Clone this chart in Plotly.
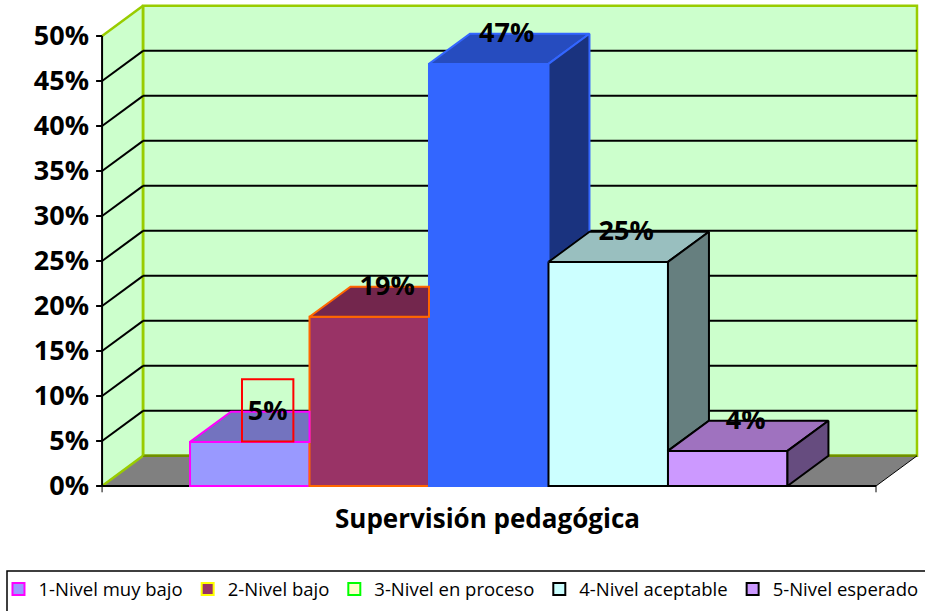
"""Grafico de barras con aspecto 3D: Supervision pedagogica."""

import plotly.graph_objects as go

series = ["1-Nivel muy bajo", "2-Nivel bajo", "3-Nivel en proceso",
          "4-Nivel aceptable", "5-Nivel esperado"]
values = [4.9, 18.8, 46.9, 24.9, 3.9]
ticks = [0, 5, 10, 15, 20, 25, 30, 35, 40, 45, 50]
x_title = "Supervisión pedagógica"

bar_fill = ["#9999FF", "#993366", "#3366FF", "#CCFFFF", "#CC99FF"]
bar_line = ["#FF00FF", "#FF6600", "#3366FF", "#000000", "#000000"]
top_fill = ["#7373BF", "#73264D", "#264CBF", "#99BFBF", "#9F72BF"]
side_fill = ["#4C4C7F", "#4C1933", "#1A337F", "#667F7F", "#664C7F"]
legend_fill = ["#9999FF", "#993366", "#FFFFCC", "#CCFFFF", "#CC99FF"]
legend_line = ["#FF00FF", "#FFFF00", "#00FF00", "#000000", "#000000"]

FONT = "Open Sans"
GREEN = "#99CC00"
WALL = "#CCFFCC"
DX, DY = 0.343, 3.35       # desplazamiento de profundidad
X0, X1 = -1.236, 5.241     # frente del suelo
TOP = ticks[-1]


def poly(xs, ys):
    return "M" + " L".join(f"{x},{y}" for x, y in zip(xs, ys)) + " Z"


def wall(xs, ys, fill, line=None, width=2.5):
    return dict(type="path", path=poly(xs, ys), xref="x", yref="y", layer="below",
                fillcolor=fill, line=dict(color=line or fill, width=width if line else 0))


def seg(x0, y0, x1, y1, color="#000000", width=2):
    return dict(type="line", x0=x0, y0=y0, x1=x1, y1=y1, xref="x", yref="y",
                layer="below", line=dict(color=color, width=width))


fig = go.Figure()

# paredes y suelo
shapes = [
    wall([X0, X0 + DX, X0 + DX, X0], [0, DY, TOP + DY, TOP], WALL),
    wall([X0 + DX, X1 + DX, X1 + DX, X0 + DX], [DY, DY, TOP + DY, TOP + DY], WALL, GREEN),
    wall([X0, X0 + DX, X1 + DX, X1], [0, DY, DY, 0], "#808080"),
    seg(X0, TOP, X0 + DX, TOP + DY, GREEN, 2.5),
    seg(X0, 0, X0 + DX, DY, GREEN, 2.5),
    seg(X0 + DX, DY, X1 + DX, DY, "#6F8F00", 2.5),
    seg(X0 + DX, DY, X0 + DX, TOP + DY, GREEN, 2.5),
    seg(X1, 0, X1 + DX, DY, "#000000", 1),
]
for t in ticks[1:-1]:
    shapes.append(seg(X0, t, X0 + DX, t + DY))
    shapes.append(seg(X0 + DX, t + DY, X1 + DX, t + DY))
for t in ticks:
    shapes.append(seg(X0 - 0.05, t, X0, t))
shapes += [
    seg(X0, 0, X0, TOP),
    seg(X0, 0, X1, 0),
    seg(X0, 0, X0, -0.7, "#000000", 1),
    seg(X1, 0, X1, -0.7, "#000000", 1),
]

# caras frontales
for i, (name, v) in enumerate(zip(series, values)):
    fig.add_trace(go.Bar(
        x=[i], y=[v], width=1, name=name, showlegend=False, hoverinfo="skip",
        marker=dict(color=bar_fill[i], line=dict(color=bar_line[i], width=2)),
    ))

# entradas de leyenda: el color de la leyenda no siempre coincide con la barra
for i, name in enumerate(series):
    fig.add_trace(go.Bar(
        x=[None], y=[None], name=name,
        marker=dict(color=legend_fill[i], line=dict(color=legend_line[i], width=2)),
    ))

# caras superior y lateral, recortadas por la barra siguiente
for i, v in enumerate(values):
    left, right = i - 0.5, i + 0.5
    nxt = values[i + 1] if i + 1 < len(values) else 0
    tx = [left, left + DX, right + DX, right, left]
    ty = [v, v + DY, v + DY, v, v]
    if nxt > v:
        tx = [left, left + DX, right, right, left]
    fig.add_trace(go.Scatter(
        x=tx, y=ty, mode="lines", fill="toself", fillcolor=top_fill[i],
        line=dict(color=bar_line[i], width=2), showlegend=False, hoverinfo="skip",
    ))
    if nxt < v:
        fig.add_trace(go.Scatter(
            x=[right, right + DX, right + DX, right, right],
            y=[v, v + DY, nxt + DY, nxt, v],
            mode="lines", fill="toself", fillcolor=side_fill[i],
            line=dict(color=bar_line[i], width=2), showlegend=False, hoverinfo="skip",
        ))

# etiquetas de datos
label_x = [i + 0.15 for i in range(len(values))]
label_y = [v + DY - 0.2 for v in values]
fig.add_trace(go.Scatter(
    x=label_x, y=label_y, mode="text", text=[f"{v:.0f}%" for v in values],
    textposition="middle center", showlegend=False, hoverinfo="skip",
    textfont=dict(family=FONT, size=27, color="#000000", weight="bold"),
))

# recuadro rojo de la etiqueta 5%
shapes.append(dict(type="rect", xref="x", yref="y", layer="above",
                   x0=label_x[0] - 0.215, x1=label_x[0] + 0.215,
                   y0=label_y[0] - 3.1, y1=label_y[0] + 3.8,
                   line=dict(color="#FF0000", width=2)))
# marco de la leyenda: sin borde abajo ni a la derecha, sale de la pagina
shapes.append(dict(type="rect", xref="paper", yref="paper", layer="above",
                   x0=-0.0994, x1=1.01, y0=-0.1559, y1=-0.24,
                   line=dict(color="#000000", width=1.5)))

fig.update_layout(
    width=925, height=611, autosize=False,
    paper_bgcolor="#FFFFFF", plot_bgcolor="rgba(0,0,0,0)",
    margin=dict(l=90, r=0, t=0, b=117, autoexpand=False),
    barmode="overlay", shapes=shapes,
    showlegend=True,
    legend=dict(orientation="h", x=-0.1096, y=-0.155, xanchor="left", yanchor="top",
                bgcolor="rgba(0,0,0,0)", traceorder="normal",
                font=dict(family=FONT, size=18.5, color="#000000")),
    annotations=[dict(text=f"<b>{x_title}</b>", xref="paper", yref="paper", x=0.476, y=-0.009,
                      yanchor="top", showarrow=False,
                      font=dict(family=FONT, size=26, color="#000000"))],
)
fig.update_xaxes(range=[-1.337, 5.651], visible=False, fixedrange=True)
fig.update_yaxes(range=[-0.889, 54], tickvals=ticks, ticktext=[f"{t}%" for t in ticks],
                 showgrid=False, zeroline=False, showline=False, ticks="", fixedrange=True,
                 tickfont=dict(family=FONT, size=27, color="#000000", weight="bold"))

# sin margen de pagina: el grafico empieza en la esquina de la ventana
fig.write_html("out.html", config={"displayModeBar": False},
               post_script="document.body.style.margin='0';")
